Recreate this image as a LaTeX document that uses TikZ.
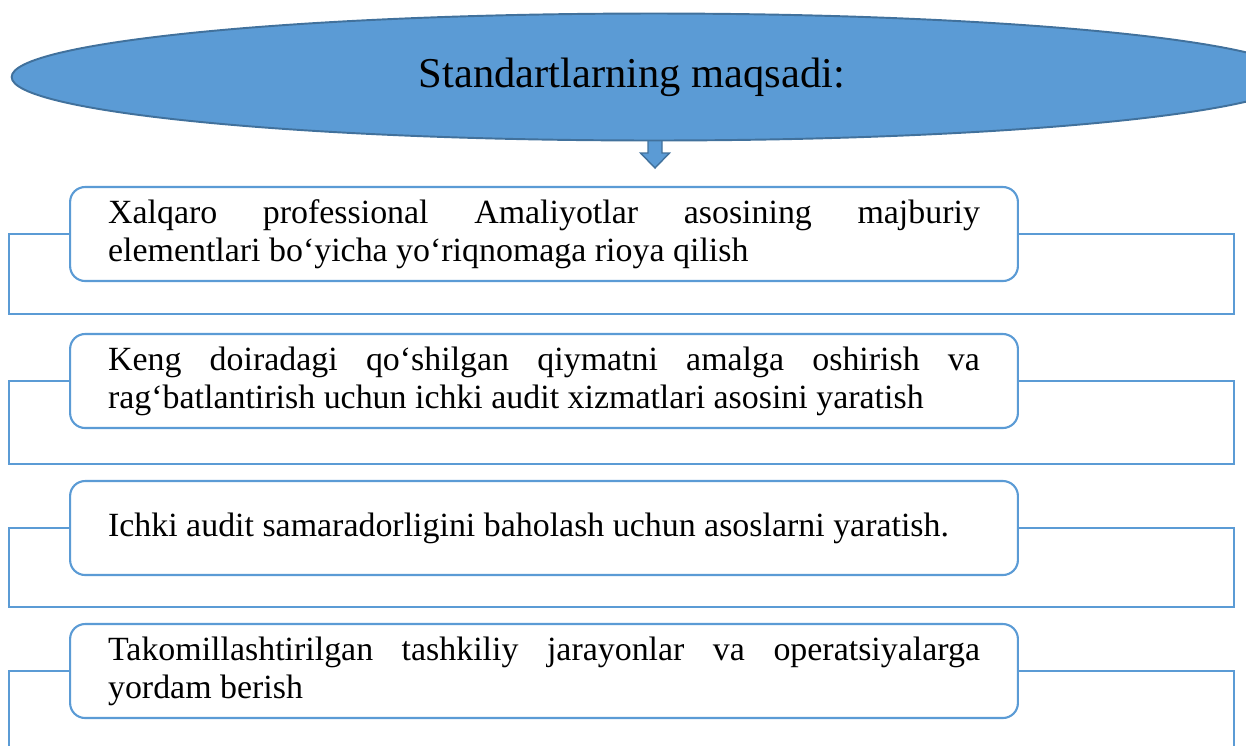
\documentclass[tikz,border=0pt]{standalone}
\usepackage{fontspec}
\setmainfont{Liberation Serif}
\usepackage{tikz}
\usetikzlibrary{positioning,shapes.geometric}
\definecolor{officeblue}{HTML}{5B9BD5}
\definecolor{officeedge}{HTML}{41719C}
\tikzset{
  titleoval/.style={draw=officeedge,fill=officeblue,line width=1.1pt,ellipse,
                    minimum width=25.7cm,minimum height=2.54cm,inner sep=0pt,
                    font=\fontsize{24.2}{28}\selectfont},
  goalbox/.style={draw=officeblue,fill=white,line width=1.2pt,rounded corners=0.3cm,
                  minimum width=18.96cm,minimum height=1.88cm,inner xsep=0.76cm,inner ysep=0pt,
                  text width=17.44cm,align=justify,font=\fontsize{19.3}{21.5}\selectfont},
  frameline/.style={draw=officeblue,line width=1.2pt},
  downarr/.style={draw=officeedge,fill=officeblue,line width=0.8pt}
}
\begin{document}
\begin{tikzpicture}[x=0.02cm,y=-0.02cm]
  \useasboundingbox (0,0) rectangle (1246,745);
  % arrow under the title
  \filldraw[downarr] (648,136) -- (648,153) -- (640.5,153) -- (655,168)
    -- (669.5,153) -- (662,153) -- (662,136) -- cycle;
  % title
  \node[titleoval] (title) at (654,77) {\hspace*{-0.88cm}Standartlarning maqsadi:};
  % frames behind the boxes
  \coordinate (f1l) at (9,314);  \coordinate (f1r) at (1234,314);
  \coordinate (f2l) at (9,464);  \coordinate (f2r) at (1234,464);
  \coordinate (f3l) at (9,607);  \coordinate (f3r) at (1234,607);
  \coordinate (f4l) at (9,780);  \coordinate (f4r) at (1234,780);
  % goal boxes
  \node[goalbox] (goal1) at (544,234)
    {Xalqaro professional Amaliyotlar asosining majburiy\linebreak elementlari bo‘yicha yo‘riqnomaga rioya qilish};
  \node[goalbox] (goal2) at (544,381)
    {Keng doiradagi qo‘shilgan qiymatni amalga oshirish va\linebreak rag‘batlantirish uchun ichki audit xizmatlari asosini yaratish};
  \node[goalbox] (goal3) at (544,528)
    {Ichki audit samaradorligini baholash uchun asoslarni yaratish.};
  \node[goalbox] (goal4) at (544,671)
    {Takomillashtirilgan tashkiliy jarayonlar va operatsiyalarga\linebreak yordam berish};
  \foreach \i in {1,...,4}
    \draw[frameline] (goal\i.west) -| (f\i l) -- (f\i r) |- (goal\i.east);
\end{tikzpicture}
\end{document}
